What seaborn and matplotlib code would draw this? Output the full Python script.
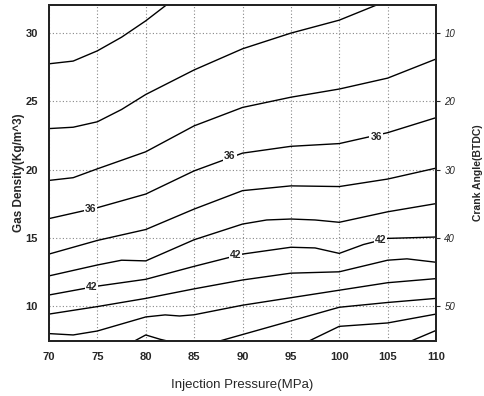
import pandas as pd
import matplotlib
matplotlib.use("Agg")
import matplotlib.pyplot as plt
import seaborn as sns

# =========================================
# DATA (contour lines)
# =========================================
X_TICKS = [70, 75, 80, 85, 90, 95, 100, 105, 110]
Y_TICKS = [10, 15, 20, 25, 30]
CRANK_TICKS = [10, 20, 30, 40, 50]

p_30 = [70, 72.5, 75, 77.5, 80, 82.2]
gd_30 = [27.75, 27.95, 28.7, 29.7, 30.9, 32.1]

p_32 = [70, 72.5, 75, 77.5, 80, 85, 90, 95, 100, 104]
gd_32 = [23.0, 23.1, 23.5, 24.4, 25.5, 27.3, 28.85, 30.0, 30.95, 32.1]

p_34 = [70, 72.5, 75, 80, 85, 90, 95, 100, 105, 110]
gd_34 = [19.2, 19.4, 20.05, 21.3, 23.2, 24.55, 25.3, 25.9, 26.7, 28.1]

p_36 = [70, 75, 80, 85, 90, 95, 100, 105, 110]
gd_36 = [16.4, 17.2, 18.2, 19.9, 21.2, 21.7, 21.9, 22.7, 23.8]

p_38 = [70, 75, 80, 85, 90, 95, 100, 105, 110]
gd_38 = [13.8, 14.8, 15.6, 17.1, 18.45, 18.8, 18.75, 19.3, 20.1]

p_40 = [70, 75, 77.5, 80, 85, 90, 92.5, 95, 97.5, 100, 105, 110]
gd_40 = [12.2, 13.0, 13.35, 13.3, 14.85, 16.0, 16.3, 16.37, 16.3, 16.13, 16.9, 17.5]

p_42 = [70, 75, 80, 85, 90, 95, 97.5, 100, 102.5, 105, 110]
gd_42 = [10.8, 11.45, 11.95, 12.9, 13.8, 14.3, 14.25, 13.85, 14.5, 14.95, 15.05]

p_44 = [70, 75, 80, 85, 90, 95, 100, 105, 107, 110]
gd_44 = [9.4, 9.95, 10.55, 11.25, 11.9, 12.4, 12.5, 13.35, 13.45, 13.2]

p_46 = [70, 72.5, 75, 80, 82, 83.5, 85, 90, 95, 100, 105, 110]
gd_46 = [7.97, 7.87, 8.16, 9.19, 9.34, 9.26, 9.35, 10.05, 10.6, 11.15, 11.7, 12.0]

p_48a = [78.5, 80, 81.5, 83]
gd_48a = [7.3, 7.87, 7.55, 7.3]

p_48b = [87, 90, 95, 100, 105, 110]
gd_48b = [7.3, 7.9, 8.9, 9.9, 10.25, 10.55]

p_50 = [96.5, 100, 105, 110]
gd_50 = [7.3, 8.5, 8.75, 9.4]

p_52 = [107, 110]
gd_52 = [7.3, 8.2]

LABEL_TEXT = ["36", "36", "36", "42", "42", "42"]
LABEL_P = [74.3, 88.7, 103.8, 74.4, 89.3, 104.3]
LABEL_GD = [17.1, 21.0, 22.4, 11.35, 13.7, 14.85]

GD_MIN, GD_MAX = 7.43, 32.05

NARROW = ["Liberation Sans Narrow", "Liberation Sans", "DejaVu Sans"]


def crank_angle(gd):
    return 70 - 2 * gd


# =========================================
# BUILD LONG TABLE
# =========================================
segments = {
    "30": (p_30, gd_30), "32": (p_32, gd_32), "34": (p_34, gd_34),
    "36": (p_36, gd_36), "38": (p_38, gd_38), "40": (p_40, gd_40),
    "42": (p_42, gd_42), "44": (p_44, gd_44), "46": (p_46, gd_46),
    "48a": (p_48a, gd_48a), "48b": (p_48b, gd_48b),
    "50": (p_50, gd_50), "52": (p_52, gd_52),
}
frames = []
for name, (p, gd) in segments.items():
    frames.append(pd.DataFrame({"pressure": p, "density": gd, "seg": name}))
df = pd.concat(frames, ignore_index=True)

# =========================================
# PLOT
# =========================================
sns.set_style("white")
fig = plt.figure(figsize=(4.85, 3.96), dpi=100)
ax = fig.add_axes([0.101, 0.139, 0.798, 0.848])

ax.set_xlim(70, 110)
ax.set_ylim(GD_MIN, GD_MAX)
ax.set_xticks(X_TICKS)
ax.set_yticks(Y_TICKS)
ax.grid(True, color="#888888", linestyle=(0, (1, 2)), linewidth=0.8)
ax.set_axisbelow(True)

sns.lineplot(data=df, x="pressure", y="density", units="seg", estimator=None,
             color="black", linewidth=1.0, sort=False, ax=ax, legend=False)

for t, p, g in zip(LABEL_TEXT, LABEL_P, LABEL_GD):
    ax.text(p, g, t, ha="center", va="center", fontsize=7.5, fontweight="bold",
            family=NARROW,
            bbox=dict(facecolor="white", edgecolor="none", pad=0.6), zorder=5)

ax.set_xlabel("")
ax.set_ylabel("")
for s in ax.spines.values():
    s.set_color("black")
    s.set_linewidth(1.3)
ax.tick_params(axis="both", length=0, pad=8)
for lab in ax.get_xticklabels() + ax.get_yticklabels():
    lab.set_family(NARROW)
    lab.set_fontweight("bold")
    lab.set_fontsize(8)

ax2 = ax.twinx()
ax2.set_ylim(crank_angle(GD_MIN), crank_angle(GD_MAX))
ax2.set_yticks(CRANK_TICKS)
ax2.tick_params(axis="y", length=3, width=0.8, pad=3, direction="out")
for lab in ax2.get_yticklabels():
    lab.set_family(NARROW)
    lab.set_fontstyle("italic")
    lab.set_fontsize(7)
for s in ax2.spines.values():
    s.set_linewidth(1.3)

fig.text(0.499, 0.028, "Injection Pressure(MPa)", ha="center", va="center",
         fontsize=9.5, family=NARROW)
fig.text(0.040, 0.563, "Gas Density(Kg/m^3)", ha="center", va="center",
         rotation=90, fontsize=8.5, fontweight="bold", family=["Liberation Sans", "DejaVu Sans"])
fig.text(0.985, 0.563, "Crank Angle(BTDC)", ha="center", va="center",
         rotation=90, fontsize=7.5, fontweight="bold", family=["Liberation Sans", "DejaVu Sans"])

fig.savefig("out.png", dpi=100)
